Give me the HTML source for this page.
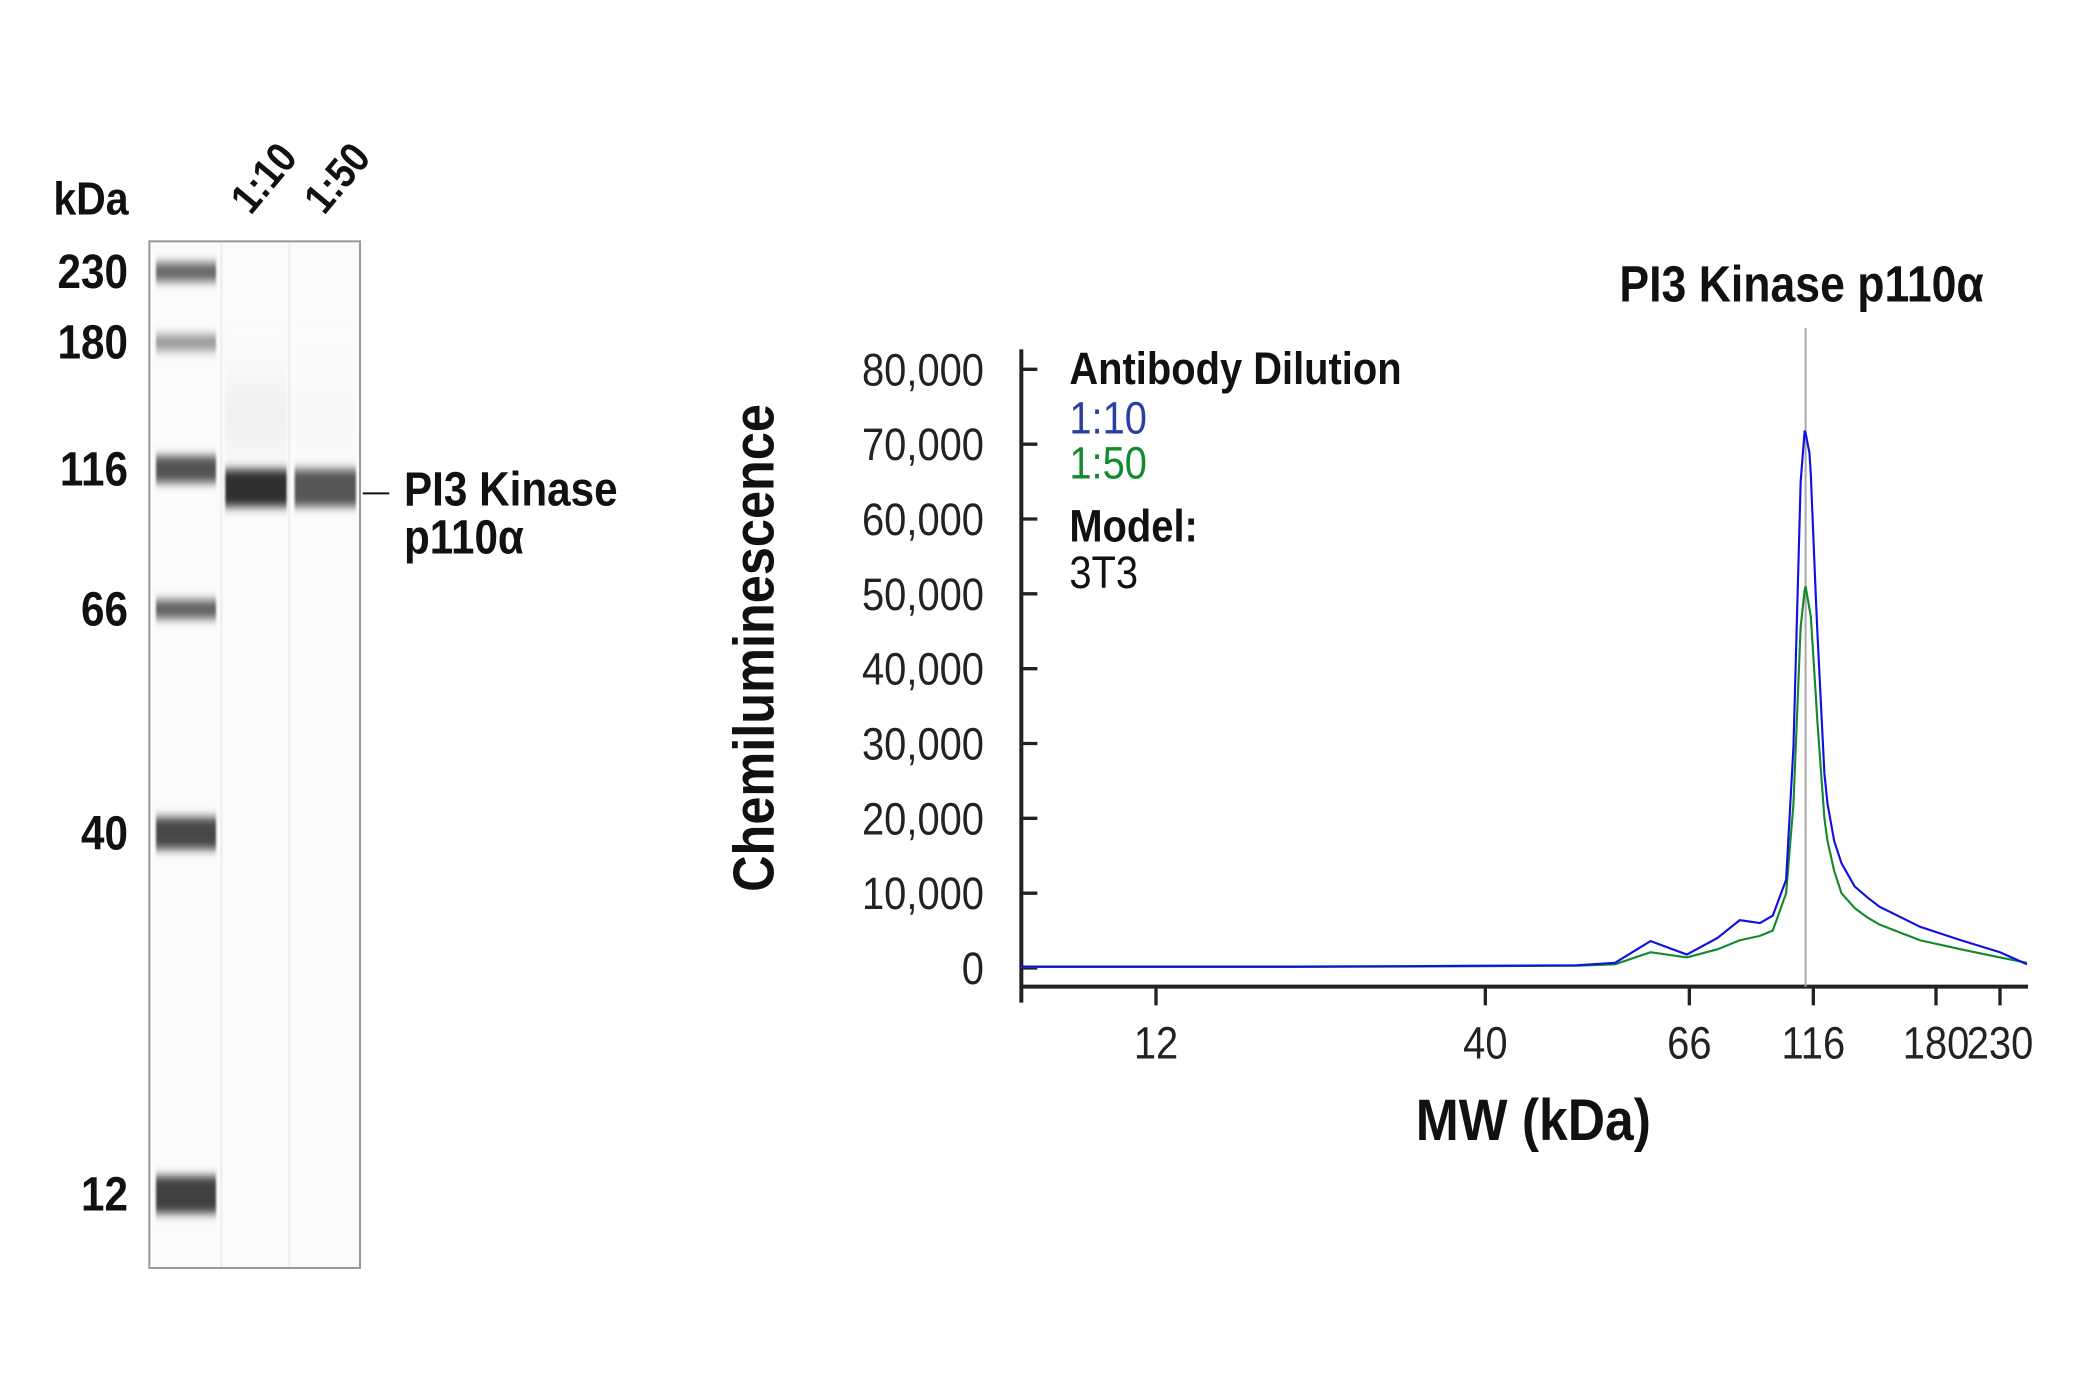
<!DOCTYPE html>
<html><head><meta charset="utf-8"><style>
html,body{margin:0;padding:0;background:#fff;}
svg{display:block;font-family:"Liberation Sans Narrow","Liberation Sans",sans-serif;}
.b{font-weight:bold;}
</style></head><body>
<svg id="fig" width="2080" height="1400" viewBox="0 0 1560 1050" xmlns="http://www.w3.org/2000/svg">
<defs>
<filter id="blur" x="-20%" y="-200%" width="140%" height="500%"><feGaussianBlur stdDeviation="0.8 3.5"/></filter>
<filter id="blur2" x="-20%" y="-200%" width="140%" height="500%"><feGaussianBlur stdDeviation="0.8 18"/></filter>
</defs>
<g id="blot">
<rect x="112" y="181" width="158" height="770" fill="#fbfbfb" stroke="#999" stroke-width="1.5"/>
<rect x="165" y="182" width="2" height="768" fill="#f0f0f0"/>
<rect x="216" y="182" width="2" height="768" fill="#f0f0f0"/>
<g id="ladder"></g>
<g id="samples"></g>
</g>
<text class="b" x="40" y="161" font-size="35" fill="#111">kDa</text>
<g id="ladderLabels"></g>
<text class="b" transform="translate(188,162) rotate(-50)" font-size="32" fill="#111">1:10</text>
<text class="b" transform="translate(243,162) rotate(-50)" font-size="32" fill="#111">1:50</text>
<line x1="272" y1="370" x2="292" y2="370" stroke="#111" stroke-width="1.5"/>
<text class="b" x="303" y="379" font-size="36" fill="#111">PI3 Kinase</text>
<text class="b" x="303" y="415" font-size="36" fill="#111">p110α</text>

<g id="chart"></g>
</svg>
<script>
const ladderMW=[230,180,116,66,40,12];
const ladderY=[204,257,352,457,625,896];
const ladderInt=[0.6,0.4,0.68,0.62,0.72,0.75];
const ladderH=[14,12,20,14,24,28];
const sampleIntensity=[0.82,0.66];

const yTicks=[0,10000,20000,30000,40000,50000,60000,70000,80000];
const xTickMW=[12,40,66,116,180,230];
const peakMW=112;
const mwPoints=[7.3,20,30,40,50,55,60,65.6,75,83,91,96.5,102.5,106,109.5,111.5,112,114,114.7,117.1,117.7,120.7,122,125,128.3,134.5,140.5,147,170,198,230,255];
const blue10=[200,200,250,300,350,700,3600,1800,4000,6400,6000,7000,11800,29600,65000,71800,71500,68800,66000,49000,45000,26000,22000,17000,14000,10900,9500,8200,5500,3700,2100,500];
const green50=[150,150,200,250,300,500,2100,1400,2500,3700,4300,5000,10000,22000,45600,50500,51000,48000,47000,36000,33000,20000,17000,13000,10000,8000,6800,5800,3700,2500,1400,700];

const NS="http://www.w3.org/2000/svg";
function mk(tag,attrs,parent){const e=document.createElementNS(NS,tag);for(const k in attrs)e.setAttribute(k,attrs[k]);parent.appendChild(e);return e;}

const lad=document.getElementById('ladder');
ladderY.forEach((y,i)=>{
  const g=Math.round(255-255*ladderInt[i]);
  const h=ladderH[i];
  const r=mk('rect',{x:117,y:y-h/2,width:45,height:h,fill:`rgb(${g},${g},${g})`,filter:'url(#blur)'},lad);
  
  
  const t=mk('text',{x:96,y:y+12,'text-anchor':'end','font-size':36,'font-weight':'bold',fill:'#111'},document.getElementById('ladderLabels'));
  t.textContent=ladderMW[i];
  
  
});
const sm=document.getElementById('samples');
[[168,sampleIntensity[0],240],[220,sampleIntensity[1],248]].forEach(([x,v,sg],i)=>{
  const s=mk('rect',{x:x+1,y:285,width:46,height:55,fill:`rgb(${sg},${sg},${sg})`,filter:'url(#blur2)'},sm);
  
  
  const g=Math.round(255-255*v);
  const r=mk('rect',{x:x+1,y:352,width:46,height:28,fill:`rgb(${g},${g},${g})`,filter:'url(#blur)'},sm);
  
  
});

const C=document.getElementById('chart');
const tickPx=[867,1114,1267,1360,1452,1500];
function xs(mw){
  const L=Math.log(mw), T=xTickMW.map(Math.log);
  let i=0;
  if(L<=T[1]) i=0; else if(L>=T[T.length-2]) i=T.length-2; else {for(i=0;i<T.length-1;i++) if(L<=T[i+1]) break;}
  return tickPx[i]+(L-T[i])/(T[i+1]-T[i])*(tickPx[i+1]-tickPx[i]);
}
function ys(v){return 726-v/80000*(726-277);}

let a=mk('line',{x1:766,y1:262,x2:766,y2:752,stroke:'#222','stroke-width':3},C);

a=mk('line',{x1:765,y1:740,x2:1521,y2:740,stroke:'#222','stroke-width':3},C);

yTicks.forEach(v=>{
  const y=ys(v);
  const l=mk('line',{x1:766,y1:y,x2:778,y2:y,stroke:'#222','stroke-width':2.5},C);
  
  const t=mk('text',{x:738,y:y+12,'text-anchor':'end','font-size':34,fill:'#222'},C);
  t.textContent=v.toLocaleString('en-US');
  
});
xTickMW.forEach(m=>{
  const x=xs(m);
  const l=mk('line',{x1:x,y1:740,x2:x,y2:754,stroke:'#222','stroke-width':2.5},C);
  
  const t=mk('text',{x:x,y:794,'text-anchor':'middle','font-size':34,fill:'#222'},C);
  t.textContent=m;
  
});
const px=xs(peakMW);
let pl=mk('line',{x1:px,y1:246,x2:px,y2:740,stroke:'#aaa','stroke-width':1.5},C);

function series(vals,color,name){
  const d=mwPoints.map((m,i)=>(i?'L':'M')+xs(m).toFixed(1)+','+ys(vals[i]).toFixed(1)).join('');
  const p=mk('path',{d:d,fill:'none',stroke:color,'stroke-width':1.6},C);
  
}
series(green50,'#138a2e','series-1-50');
series(blue10,'#1010e0','series-1-10');
function txt(s,attrs,name){const t=mk('text',attrs,C);t.textContent=s;}
txt('PI3 Kinase p110α',{x:px-3,y:226,'text-anchor':'middle','font-size':38,'font-weight':'bold',fill:'#111'},'peak-label');
txt('Antibody Dilution',{x:802,y:288,'font-size':34,'font-weight':'bold',fill:'#111'},'legend-title');
txt('1:10',{x:802,y:325,'font-size':34,fill:'#2a3fa6'},'legend-entry-1-10');
txt('1:50',{x:802,y:359,'font-size':34,fill:'#138a2e'},'legend-entry-1-50');
txt('Model:',{x:802,y:406,'font-size':34,'font-weight':'bold',fill:'#111'},'model-label');
txt('3T3',{x:802,y:441,'font-size':34,fill:'#111'},'model-value');
txt('MW (kDa)',{x:1150,y:855,'text-anchor':'middle','font-size':44,'font-weight':'bold',fill:'#111'},'x-axis-title');
txt('Chemiluminescence',{transform:'translate(580,486) rotate(-90)','text-anchor':'middle','font-size':43,'font-weight':'bold',fill:'#111'},'y-axis-title');

document.querySelectorAll('#fig text').forEach(t=>{
  const tr=t.getAttribute('transform');
  const x=t.getAttribute('x')||0, y=t.getAttribute('y')||0;
  if(tr){t.setAttribute('transform',tr+' scale(0.88,1)');}
  else{t.setAttribute('transform',`translate(${x},${y}) scale(0.88,1)`);t.setAttribute('x',0);t.setAttribute('y',0);}
});
</script>
</body></html>
